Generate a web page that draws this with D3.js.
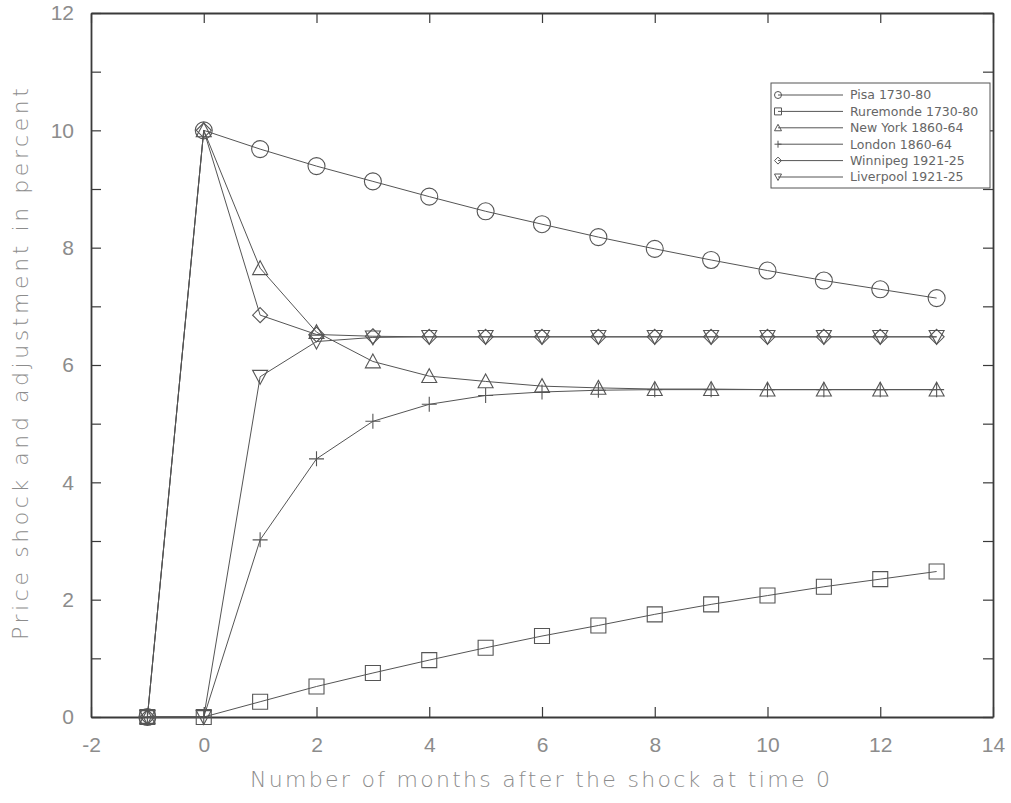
<!DOCTYPE html>
<html>
<head>
<meta charset="utf-8">
<script src="https://cdn.jsdelivr.net/npm/d3@7"></script>
<style>
  body { margin: 0; background: #fff; }
</style>
</head>
<body>
<div id="chart"></div>
<script>
// months after the shock
var months = [-1, 0, 1, 2, 3, 4, 5, 6, 7, 8, 9, 10, 11, 12, 13];

// series values
var pisa      = [0, 10, 9.68, 9.39, 9.13, 8.87, 8.62, 8.40, 8.18, 7.98, 7.79, 7.61, 7.44, 7.29, 7.14];
var ruremonde = [0, 0, 0.26, 0.52, 0.75, 0.97, 1.18, 1.38, 1.56, 1.75, 1.92, 2.07, 2.22, 2.35, 2.48];
var newYork   = [0, 10, 7.65, 6.56, 6.06, 5.81, 5.72, 5.64, 5.61, 5.59, 5.59, 5.58, 5.58, 5.58, 5.58];
var london    = [0, 0, 3.02, 4.40, 5.04, 5.33, 5.48, 5.54, 5.57, 5.58, 5.58, 5.58, 5.58, 5.58, 5.58];
var winnipeg  = [0, 10, 6.85, 6.52, 6.49, 6.48, 6.48, 6.48, 6.48, 6.48, 6.48, 6.48, 6.48, 6.48, 6.48];
var liverpool = [0, 0, 5.80, 6.40, 6.47, 6.48, 6.48, 6.48, 6.48, 6.48, 6.48, 6.48, 6.48, 6.48, 6.48];

var seriesNames = ["Pisa 1730-80", "Ruremonde 1730-80", "New York 1860-64", "London 1860-64", "Winnipeg 1921-25", "Liverpool 1921-25"];
var seriesValues = [pisa, ruremonde, newYork, london, winnipeg, liverpool];
var seriesMarkers = ["circle", "square", "triangle", "plus", "diamond", "triangleDown"];

var xTicks = [-2, 0, 2, 4, 6, 8, 10, 12, 14];
var yTicks = [0, 1, 2, 3, 4, 5, 6, 7, 8, 9, 10, 11, 12];

var xLabel = "Number of months after the shock at time 0";
var yLabel = "Price shock and adjustment in percent";

var lineColor = "#555";
var textColor = "#8c8c8c";

var width = 1011, height = 803;
var margin = {top: 13, right: 18, bottom: 86, left: 91};

var svg = d3.select("#chart").append("svg")
  .attr("width", width)
  .attr("height", height)
  .attr("font-family", "DejaVu Sans");

var x = d3.scaleLinear()
  .domain([-2, 14])
  .range([margin.left, width - margin.right]);

var y = d3.scaleLinear()
  .domain([0, 12])
  .range([height - margin.bottom, margin.top]);

// marker paths, s = half size
function marker(type, s) {
  switch (type) {
    case "circle":
      return "M" + (-s) + ",0A" + s + "," + s + " 0 1,0 " + s + ",0A" + s + "," + s + " 0 1,0 " + (-s) + ",0Z";
    case "square":
      return "M" + (-s) + "," + (-s) + "H" + s + "V" + s + "H" + (-s) + "Z";
    case "triangle":
      return "M0," + (-s) + "L" + s + "," + s * 0.85 + "L" + (-s) + "," + s * 0.85 + "Z";
    case "triangleDown":
      return "M0," + s + "L" + s + "," + (-s * 0.85) + "L" + (-s) + "," + (-s * 0.85) + "Z";
    case "diamond":
      return "M0," + (-s) + "L" + s + ",0L0," + s + "L" + (-s) + ",0Z";
    case "plus":
      return "M" + (-s) + ",0H" + s + "M0," + (-s) + "V" + s;
  }
}

var series = seriesNames.map(function (name, i) {
  return {
    name: name,
    marker: seriesMarkers[i],
    points: months.map(function (m, j) { return {month: m, value: seriesValues[i][j]}; })
  };
});

// axes with inward ticks
svg.append("g")
  .attr("transform", "translate(0," + y(0) + ")")
  .call(d3.axisBottom(x).tickValues(xTicks).tickSizeInner(-10).tickSizeOuter(0).tickPadding(20)
    .tickFormat(function (d) { return d < 0 ? "-" + Math.abs(d) : d; }));

svg.append("g")
  .attr("transform", "translate(0," + y(12) + ")")
  .call(d3.axisTop(x).tickValues(xTicks).tickSizeInner(-10).tickSizeOuter(0).tickFormat(""));

svg.append("g")
  .attr("transform", "translate(" + x(-2) + ",0)")
  .call(d3.axisLeft(y).tickValues(yTicks).tickSizeInner(-10).tickSizeOuter(0).tickPadding(17)
    .tickFormat(function (d) { return d % 2 === 0 ? d : ""; }));

svg.append("g")
  .attr("transform", "translate(" + x(14) + ",0)")
  .call(d3.axisRight(y).tickValues(yTicks).tickSizeInner(-10).tickSizeOuter(0).tickFormat(""));

svg.selectAll(".domain").attr("stroke", "#3a3a3a").attr("stroke-width", 1.8);
svg.selectAll(".tick line").attr("stroke", "#3a3a3a").attr("stroke-width", 1.2);
svg.selectAll(".tick text")
  .attr("fill", textColor)
  .attr("font-size", "21px")
  .attr("font-weight", "200");

// axis titles
svg.append("text")
  .attr("x", (x(-2) + x(14)) / 2 - 2)
  .attr("y", 787)
  .attr("text-anchor", "middle")
  .attr("fill", textColor)
  .attr("font-size", "22px")
  .attr("font-weight", "200")
  .attr("textLength", 580)
  .attr("lengthAdjust", "spacing")
  .text(xLabel);

svg.append("text")
  .attr("transform", "translate(28,364) rotate(-90)")
  .attr("text-anchor", "middle")
  .attr("fill", textColor)
  .attr("font-size", "22px")
  .attr("font-weight", "200")
  .attr("textLength", 552)
  .attr("lengthAdjust", "spacing")
  .text(yLabel);

// lines
var line = d3.line()
  .x(function (d) { return x(d.month); })
  .y(function (d) { return y(d.value); });

svg.append("g")
  .selectAll("path")
  .data(series)
  .join("path")
  .attr("fill", "none")
  .attr("stroke", lineColor)
  .attr("stroke-width", 1)
  .attr("d", function (d) { return line(d.points); });

// markers
svg.append("g")
  .selectAll("g")
  .data(series)
  .join("g")
  .each(function (s) {
    d3.select(this).selectAll("path")
      .data(s.points)
      .join("path")
      .attr("transform", function (d) { return "translate(" + x(d.month) + "," + y(d.value) + ")"; })
      .attr("d", marker(s.marker, s.marker === "circle" ? 8.5 : 7.5))
      .attr("fill", "none")
      .attr("stroke", lineColor)
      .attr("stroke-width", 1.1);
  });

// legend
var legend = svg.append("g");
legend.append("rect")
  .attr("x", 771).attr("y", 83)
  .attr("width", 219).attr("height", 105)
  .attr("fill", "#fff")
  .attr("stroke", "#555")
  .attr("stroke-width", 1);

var ly = d3.scalePoint().domain(seriesNames).range([95, 177]);

var rows = legend.selectAll("g.row")
  .data(series)
  .join("g")
  .attr("class", "row")
  .attr("transform", function (d) { return "translate(0," + ly(d.name) + ")"; });

rows.append("line")
  .attr("x1", 778).attr("x2", 843)
  .attr("stroke", lineColor).attr("stroke-width", 1);

rows.append("path")
  .attr("transform", "translate(778,0)")
  .attr("d", function (d) { return marker(d.marker, 3.5); })
  .attr("fill", "none")
  .attr("stroke", lineColor)
  .attr("stroke-width", 1);

rows.append("text")
  .attr("x", 850)
  .attr("dy", "0.35em")
  .attr("fill", "#666")
  .attr("font-size", "12.5px")
  .text(function (d) { return d.name; });
</script>
</body>
</html>
